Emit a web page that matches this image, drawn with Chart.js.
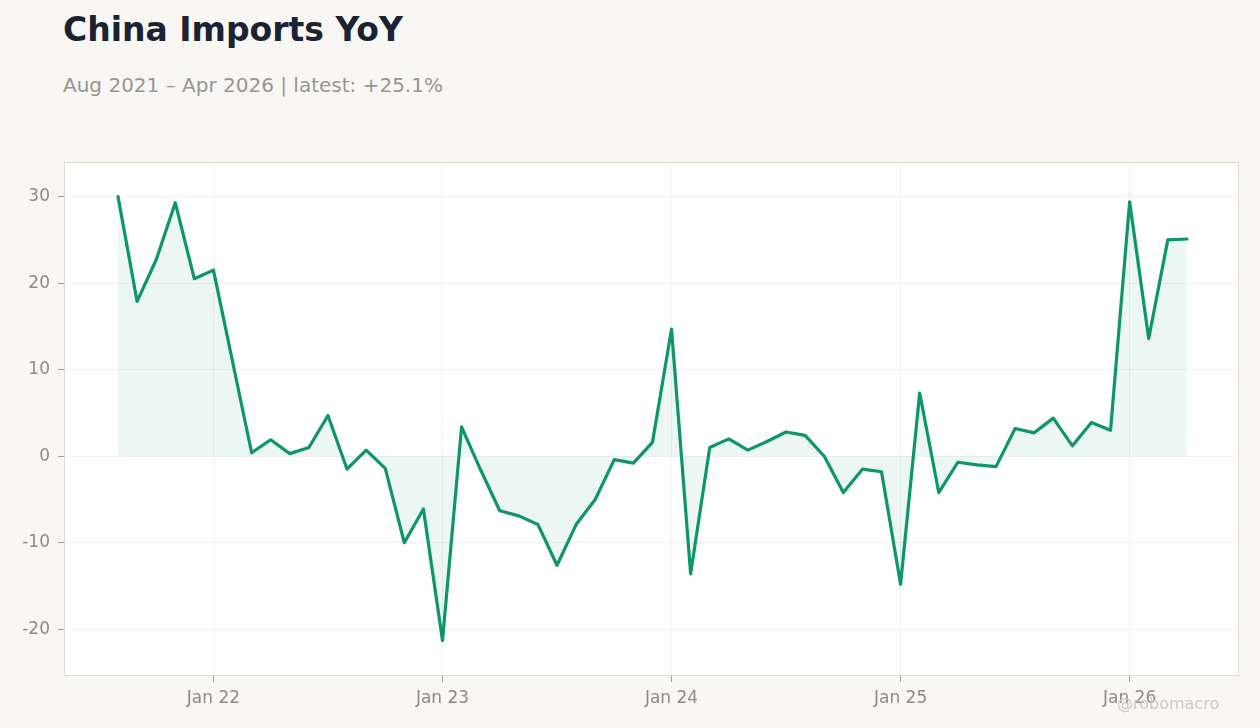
<!DOCTYPE html>
<html>
<head>
<meta charset="utf-8">
<script src="https://cdn.jsdelivr.net/npm/chart.js@4.4.1/dist/chart.umd.min.js"></script>
<style>
  html, body { margin: 0; padding: 0; background: #f8f7f4; width: 1260px; height: 728px; overflow: hidden; }
  body { position: relative; font-family: "DejaVu Sans", sans-serif; }
  #titre { position: absolute; left: 63px; top: 13px; font-size: 33px; line-height: 33px; font-weight: bold; color: #1b2333; white-space: nowrap; }
  #soustitre { position: absolute; left: 63px; top: 75px; font-size: 20px; line-height: 20px; color: #9a9590; white-space: nowrap; }
  #signature { position: absolute; left: 1117px; top: 696px; font-size: 16px; line-height: 16px; color: #cdc9c2; white-space: nowrap; }
  #myChart { position: absolute; left: 0; top: 0; }
</style>
</head>
<body>
<div id="titre">China Imports YoY</div>
<div id="soustitre">Aug 2021 – Apr 2026 | latest: +25.1%</div>
<canvas id="myChart" width="1260" height="728"></canvas>
<div id="signature">@robomacro</div>
<script>
// Mois de Aug 2021 a Apr 2026 (un point par mois)
const mois = [
    "Aug 21", "Sep 21", "Oct 21", "Nov 21", "Dec 21",
    "Jan 22", "Feb 22", "Mar 22", "Apr 22", "May 22", "Jun 22", "Jul 22", "Aug 22", "Sep 22", "Oct 22", "Nov 22", "Dec 22",
    "Jan 23", "Feb 23", "Mar 23", "Apr 23", "May 23", "Jun 23", "Jul 23", "Aug 23", "Sep 23", "Oct 23", "Nov 23", "Dec 23",
    "Jan 24", "Feb 24", "Mar 24", "Apr 24", "May 24", "Jun 24", "Jul 24", "Aug 24", "Sep 24", "Oct 24", "Nov 24", "Dec 24",
    "Jan 25", "Feb 25", "Mar 25", "Apr 25", "May 25", "Jun 25", "Jul 25", "Aug 25", "Sep 25", "Oct 25", "Nov 25", "Dec 25",
    "Jan 26", "Feb 26", "Mar 26", "Apr 26"
];

// Importations chinoises, variation sur un an (%) - Feb 22 absent (Jan-Feb cumule)
const importsYoY = [
    30.0, 17.9, 22.7, 29.3, 20.5,
    21.5, null, 0.4, 1.9, 0.3, 1.0, 4.7, -1.5, 0.7, -1.4, -10.0, -6.1,
    -21.3, 3.4, -1.6, -6.3, -6.9, -7.9, -12.6, -7.9, -5.0, -0.4, -0.8, 1.6,
    14.7, -13.6, 1.0, 2.0, 0.7, 1.7, 2.8, 2.4, 0.0, -4.2, -1.5, -1.8,
    -14.8, 7.3, -4.2, -0.7, -1.0, -1.2, 3.2, 2.7, 4.4, 1.2, 3.9, 3.0,
    29.4, 13.6, 25.0, 25.1
];

// Graduations
const xTickMois = ["Jan 22", "Jan 23", "Jan 24", "Jan 25", "Jan 26"];
const xTickLabels = ["Jan 22", "Jan 23", "Jan 24", "Jan 25", "Jan 26"];
const yTicks = [-20, -10, 0, 10, 20, 30];

const vert = "#0e9667";
const indicesJanvier = xTickMois.map(m => mois.indexOf(m));

// fond blanc + cadre de la zone du graphe
const cadre = {
    id: "cadre",
    beforeDraw(chart) {
        const a = chart.chartArea;
        const ctx = chart.ctx;
        ctx.save();
        ctx.fillStyle = "#ffffff";
        ctx.fillRect(a.left, a.top, a.right - a.left, a.bottom - a.top);
        ctx.restore();
    },
    afterDraw(chart) {
        const a = chart.chartArea;
        const ctx = chart.ctx;
        ctx.save();
        ctx.strokeStyle = "#e0dbd2";
        ctx.lineWidth = 1;
        ctx.strokeRect(a.left + 0.5, a.top + 0.5, a.right - a.left - 1, a.bottom - a.top - 1);
        ctx.restore();
    }
};

const points = importsYoY.map((v, i) => ({ x: i, y: v }));

const ctx = document.getElementById("myChart").getContext("2d");
const myChart = new Chart(ctx, {
    type: "line",
    data: {
        datasets: [{
            label: "China Imports YoY",
            data: points,
            borderColor: vert,
            borderWidth: 3.2,
            borderJoinStyle: "round",
            borderCapStyle: "round",
            backgroundColor: "rgba(14, 150, 103, 0.08)",
            fill: "origin",
            pointRadius: 0,
            tension: 0,
            spanGaps: true
        }]
    },
    options: {
        responsive: false,
        animation: false,
        devicePixelRatio: 1,
        layout: { padding: { top: 162, right: 21, bottom: 0, left: 0 } },
        plugins: {
            legend: { display: false },
            tooltip: { enabled: false }
        },
        scales: {
            x: {
                type: "linear",
                min: -2.83,
                max: mois.length - 1 + 2.73,
                afterBuildTicks: (scale) => {
                    scale.ticks = indicesJanvier.map(v => ({ value: v }));
                },
                afterFit: (scale) => { scale.height = 52; },
                ticks: {
                    autoSkip: false,
                    maxRotation: 0,
                    padding: 6,
                    color: "#8f8a85",
                    font: { family: "DejaVu Sans", size: 17 },
                    callback: (value, index) => xTickLabels[index]
                },
                grid: {
                    color: "rgba(0, 0, 0, 0.05)",
                    tickColor: "#a39e98",
                    tickLength: 6
                },
                border: { display: false }
            },
            y: {
                min: -25.4,
                max: 34.0,
                afterBuildTicks: (scale) => {
                    scale.ticks = yTicks.map(v => ({ value: v }));
                },
                afterFit: (scale) => { scale.width = 64; },
                ticks: {
                    padding: 8,
                    color: "#8f8a85",
                    font: { family: "DejaVu Sans", size: 17 }
                },
                grid: {
                    color: "rgba(0, 0, 0, 0.05)",
                    tickColor: "#a39e98",
                    tickLength: 6
                },
                border: { display: false }
            }
        }
    },
    plugins: [cadre]
});
</script>
</body>
</html>
